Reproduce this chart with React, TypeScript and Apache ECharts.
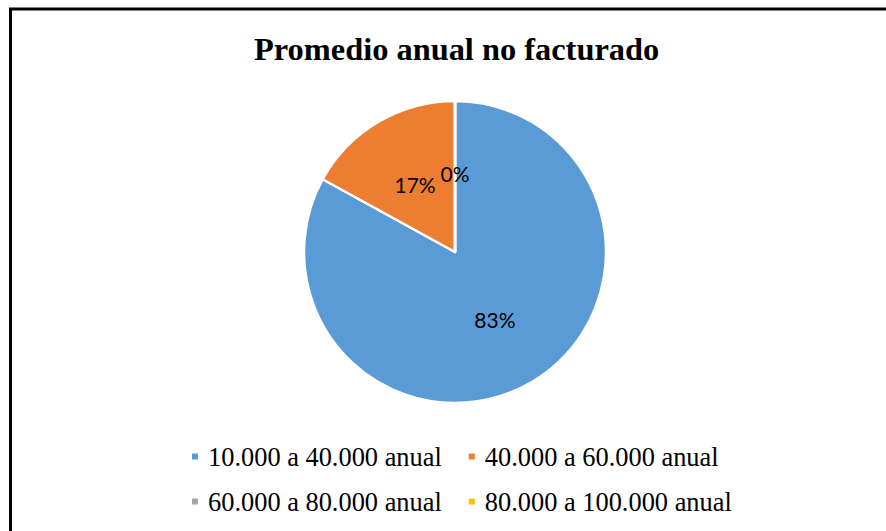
import React, { useEffect, useRef } from "react";
import * as echarts from "echarts";

const titleText = "Promedio anual no facturado";
const categories = [
  "10.000 a 40.000 anual",
  "40.000 a 60.000 anual",
  "60.000 a 80.000 anual",
  "80.000 a 100.000 anual",
];
const values = [83, 17, 0, 0];
const colors = ["#5B9BD5", "#ED7D31", "#A5A5A5", "#FFC000"];

export default function App() {
  const ref = useRef<HTMLDivElement>(null);
  useEffect(() => {
    if (!ref.current) return;
    const chart = echarts.init(ref.current, null, { renderer: "svg" });
    const legendText = {
      fontFamily: "'Liberation Serif', 'Times New Roman', serif",
      fontSize: 26.4,
      color: "#000",
      lineHeight: 30,
      padding: [0, 0, 0, 4],
    };
    chart.setOption({
      animation: false,
      backgroundColor: "#fff",
      title: {
        text: titleText,
        left: 254,
        top: 31,
        padding: 0,
        textStyle: {
          fontFamily: "'Liberation Serif', 'Times New Roman', serif",
          fontWeight: "bold",
          fontSize: 32.4,
          color: "#000",
          lineHeight: 36,
        },
      },
      graphic: [
        {
          type: "rect",
          shape: { x: 10.5, y: 9, width: 1000, height: 1000 },
          style: { fill: "none", stroke: "#000", lineWidth: 3 },
          silent: true,
        },
      ],
      legend: [
        {
          data: categories.slice(0, 2),
          left: 190,
          top: 441.5,
          padding: 0,
          orient: "horizontal",
          icon: "rect",
          itemWidth: 8,
          itemHeight: 8,
          itemGap: 25,
          textStyle: legendText,
        },
        {
          data: categories.slice(2, 4),
          left: 190,
          top: 486.5,
          padding: 0,
          orient: "horizontal",
          icon: "rect",
          itemWidth: 8,
          itemHeight: 8,
          itemGap: 25,
          textStyle: legendText,
        },
      ],
      series: [
        {
          type: "pie",
          center: [455, 252],
          radius: [0, 151],
          startAngle: 90,
          clockwise: true,
          avoidLabelOverlap: false,
          minShowLabelAngle: -1,
          itemStyle: { borderColor: "#fff", borderWidth: 2.5 },
          label: {
            show: true,
            position: "inside",
            formatter: (p: any) => Math.round(p.percent) + "%",
            fontFamily: "Lato, 'Noto Sans', sans-serif",
            fontSize: 21,
            color: "#000",
          },
          labelLine: { show: false },
          emphasis: { disabled: true },
          data: categories.map((c, i) => ({
            name: c,
            value: values[i],
            itemStyle: { color: colors[i] },
          })),
        },
      ],
    });
    return () => chart.dispose();
  }, []);
  return (
    <div
      ref={ref}
      style={{ position: "fixed", left: 0, top: 0, width: 886, height: 531 }}
    />
  );
}
